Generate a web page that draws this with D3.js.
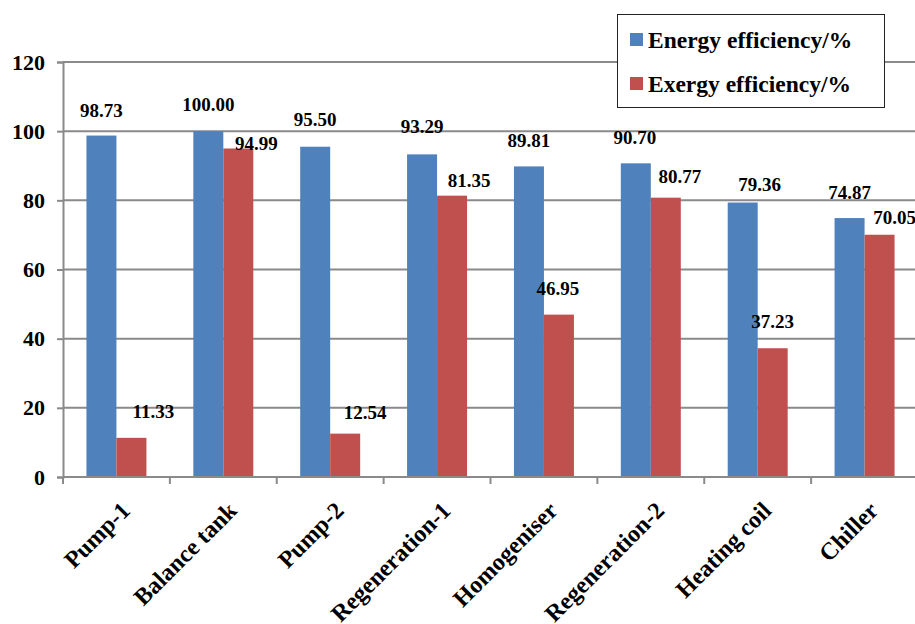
<!DOCTYPE html>
<html>
<head>
<meta charset="utf-8">
<script src="https://cdn.jsdelivr.net/npm/d3@7"></script>
<style>
  html, body { margin: 0; padding: 0; background: #ffffff; }
  svg { display: block; }
  text { font-family: "Liberation Serif", "Times New Roman", "DejaVu Serif", serif; font-weight: bold; fill: #000; }
</style>
</head>
<body>
<svg id="chart" width="915" height="624"></svg>
<script>
// Process units along the line
const categories = ["Pump-1", "Balance tank", "Pump-2", "Regeneration-1",
                    "Homogeniser", "Regeneration-2", "Heating coil", "Chiller"];

// Efficiencies (%) per unit
const energyEfficiency = [98.73, 100.00, 95.50, 93.29, 89.81, 90.70, 79.36, 74.87];
const exergyEfficiency = [11.33, 94.99, 12.54, 81.35, 46.95, 80.77, 37.23, 70.05];

const seriesNames = ["Energy efficiency/%", "Exergy efficiency/%"];
const yTicks = [0, 20, 40, 60, 80, 100, 120];

// Small hand placements of the value labels, [dx, dy] in pixels
const energyLabelShift = [[0, 1], [0, 0], [0, -1], [0, -1], [0, 1], [-1, 1], [17, 8], [0, 1]];
const exergyLabelShift = [[22, 0], [18, 22], [20, 5], [17, 11], [-1, 0], [14, 5], [0, 0], [15, 9]];

const colors = ["#4F81BD", "#C0504D"];
const gridColor = "#8a8a8a";

const svg = d3.select("#chart");
const W = 915, H = 624;
svg.append("rect").attr("width", W).attr("height", H).attr("fill", "#fff");

const plot = { left: 63, right: 918, top: 62, bottom: 477 };

const x0 = d3.scaleBand().domain(categories).range([plot.left, plot.right]).padding(0);
const x1 = d3.scaleBand().domain([0, 1]).range([0, x0.bandwidth()])
  .paddingInner(0).paddingOuter(0.782);
const y = d3.scaleLinear().domain([0, 120]).range([plot.bottom, plot.top]);

// Horizontal gridlines
svg.append("g").selectAll("line").data(yTicks.filter(t => t > 0)).join("line")
  .attr("x1", plot.left).attr("x2", W)
  .attr("y1", d => y(d)).attr("y2", d => y(d))
  .attr("stroke", gridColor).attr("stroke-width", 2);

// Y axis with labels
const yAxis = d3.axisLeft(y).tickValues(yTicks).tickSize(6).tickPadding(12).tickFormat(d3.format("d"));
const gy = svg.append("g").attr("transform", `translate(${plot.left},0)`).call(yAxis);
gy.attr("font-family", null);
gy.select(".domain").attr("stroke", gridColor).attr("stroke-width", 2);
gy.selectAll(".tick line").attr("stroke", gridColor).attr("stroke-width", 2);
gy.selectAll(".tick text").style("font-size", "22px").attr("fill", "#000");

// Bars
const rows = categories.map((c, i) => ({
  cat: c,
  vals: [energyEfficiency[i], exergyEfficiency[i]],
  shifts: [energyLabelShift[i], exergyLabelShift[i]]
}));

const groups = svg.append("g").selectAll("g").data(rows).join("g")
  .attr("transform", d => `translate(${x0(d.cat)},0)`);

groups.selectAll("rect").data(d => d.vals.map((v, k) => ({ v, k }))).join("rect")
  .attr("x", d => x1(d.k))
  .attr("width", x1.bandwidth())
  .attr("y", d => y(d.v))
  .attr("height", d => y(0) - y(d.v))
  .attr("fill", d => colors[d.k]);

// Category axis line and boundary ticks
svg.append("line").attr("x1", plot.left).attr("x2", W)
  .attr("y1", y(0)).attr("y2", y(0))
  .attr("stroke", gridColor).attr("stroke-width", 2);
const bounds = categories.map(c => x0(c));
svg.append("g").selectAll("line").data(bounds).join("line")
  .attr("x1", d => d).attr("x2", d => d)
  .attr("y1", y(0)).attr("y2", y(0) + 7)
  .attr("stroke", gridColor).attr("stroke-width", 2);

// Category labels, rotated
svg.append("g").selectAll("text").data(categories).join("text")
  .attr("transform", d => `translate(${x0(d) + x0.bandwidth() / 2 + 15},${y(0) + 35}) rotate(-45)`)
  .attr("text-anchor", "end")
  .style("font-size", "24px")
  .text(d => d);

// Value labels
groups.selectAll("text.val").data(d => d.vals.map((v, k) => ({ v, k, s: d.shifts[k] }))).join("text")
  .attr("class", "val")
  .attr("x", d => x1(d.k) + x1.bandwidth() / 2 + d.s[0])
  .attr("y", d => y(d.v) - 20 + d.s[1])
  .attr("text-anchor", "middle")
  .style("font-size", "19px")
  .text(d => d3.format(".2f")(d.v));

// Legend
const lg = svg.append("g");
lg.append("rect").attr("x", 617.5).attr("y", 14.5).attr("width", 267).attr("height", 93)
  .attr("fill", "#fff").attr("stroke", "#222").attr("stroke-width", 1);
seriesNames.forEach((name, k) => {
  const cy = 40 + k * 44;
  lg.append("rect").attr("x", 630).attr("y", cy - 7).attr("width", 13).attr("height", 13)
    .attr("fill", colors[k]);
  lg.append("text").attr("x", 648).attr("y", cy + 8)
    .style("font-size", "23.5px").text(name);
});
</script>
</body>
</html>
